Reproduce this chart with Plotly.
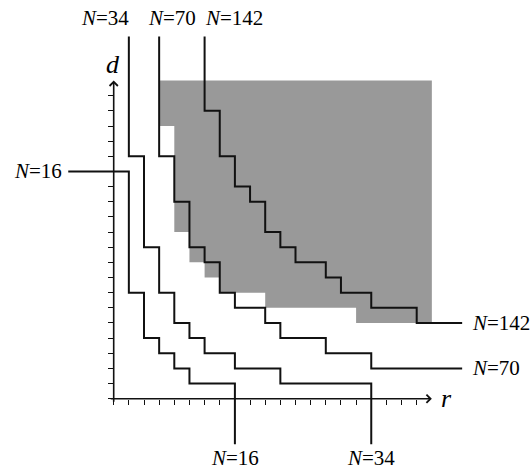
import plotly.graph_objects as go

# ---- data (grid units) ----
N16_x = [-3, 1, 1, 2, 2, 3, 3, 4, 4, 5, 5, 8, 8]
N16_y = [15, 15, 7, 7, 4, 4, 3, 3, 2, 2, 1, 1, -3]

N34_x = [1, 1, 2, 2, 3, 3, 4, 4, 5, 5, 6, 6, 8, 8, 11, 11, 17, 17]
N34_y = [23.9, 16, 16, 10, 10, 7, 7, 5, 5, 4, 4, 3, 3, 2, 2, 1, 1, -3]

N70_x = [3, 3, 4, 4, 5, 5, 6, 6, 7, 7, 8, 8, 10, 10, 11, 11, 14, 14, 17, 17, 23]
N70_y = [23.9, 16, 16, 13, 13, 10, 10, 9, 9, 7, 7, 6, 6, 5, 5, 4, 4, 3, 3, 2, 2]

N142_x = [6, 6, 7, 7, 8, 8, 9, 9, 10, 10, 11, 11, 12, 12, 14, 14, 15, 15, 17, 17, 20, 20, 23]
N142_y = [23.9, 19, 19, 16, 16, 14, 14, 13, 13, 11, 11, 10, 10, 9, 9, 8, 8, 7, 7, 6, 6, 5, 5]

REGION_x = [3, 21, 21, 16, 16, 10, 10, 7, 7, 6, 6, 5, 5, 4, 4, 3, 3]
REGION_y = [21, 21, 5, 5, 6, 6, 7, 7, 8, 8, 9, 9, 11, 11, 18, 18, 21]

tick_vals = list(range(0, 21))
AXIS_MAX = 21

# labels: (text, x, y, xanchor)
labels = [
    ("N", "=16", -3.25, 15.0, "right"),
    ("N", "=34", -0.57, 25.1, "center"),
    ("N", "=70", 3.88, 25.1, "center"),
    ("N", "=142", 7.94, 25.1, "center"),
    ("N", "=16", 8.0, -3.9, "center"),
    ("N", "=34", 17.0, -3.9, "center"),
    ("N", "=142", 23.55, 5.0, "left"),
    ("N", "=70", 23.55, 2.0, "left"),
]

# ---- geometry of the page ----
W, H = 532, 469
OX, OY = 113.7, 398.7     # origin in pixels
U = 15.15                 # pixels per grid unit

xr = [-OX / U, (W - OX) / U]
yr = [-(H - OY) / U, OY / U]

SERIF = "Liberation Serif, Times New Roman, DejaVu Serif, serif"

fig = go.Figure()
fig.add_trace(go.Scatter(x=REGION_x, y=REGION_y, fill="toself", fillcolor="#999999",
                         line=dict(width=0), mode="lines", hoverinfo="skip"))
for xs, ys in [(N16_x, N16_y), (N34_x, N34_y), (N70_x, N70_y), (N142_x, N142_y)]:
    fig.add_trace(go.Scatter(x=xs, y=ys, mode="lines",
                             line=dict(color="#111111", width=2), hoverinfo="skip"))

# empty trace for the tick axes
fig.add_trace(go.Scatter(x=[], y=[], xaxis="x2", yaxis="y2"))

font = dict(family=SERIF, size=21, color="#000000")
ann = []
for n, rest, x, y, xa in labels:
    ann.append(dict(x=x, y=y, xref="x", yref="y", text=f"<i>{n}</i>{rest}",
                    showarrow=False, xanchor=xa, yanchor="middle", font=font))
# axis arrows
ann.append(dict(x=AXIS_MAX, y=0, ax=-0.3, ay=0, xref="x", yref="y", axref="x", ayref="y",
                text="", showarrow=True, arrowhead=4, arrowsize=1, arrowwidth=1.6,
                arrowcolor="#111111", standoff=0, startstandoff=0))
ann.append(dict(x=0, y=AXIS_MAX, ax=0, ay=-0.3, xref="x", yref="y", axref="x", ayref="y",
                text="", showarrow=True, arrowhead=4, arrowsize=1, arrowwidth=1.6,
                arrowcolor="#111111", standoff=0, startstandoff=0))
ann.append(dict(x=(446 - OX) / U, y=(OY - 398) / U, xref="x", yref="y", text="<i>r</i>",
                showarrow=False, font=dict(family=SERIF, size=26, color="#000")))
ann.append(dict(x=(112.5 - OX) / U, y=(OY - 64) / U, xref="x", yref="y", text="<i>d</i>",
                showarrow=False, font=dict(family=SERIF, size=26, color="#000")))

hidden = dict(visible=False, showgrid=False, zeroline=False)
tick_axis = dict(range=[0, AXIS_MAX], showgrid=False, zeroline=False, showline=False,
                 ticks="outside", ticklen=5, tickwidth=1.3, tickcolor="#111111",
                 tickvals=tick_vals, showticklabels=False, fixedrange=True)

fig.update_layout(
    width=W, height=H,
    margin=dict(l=0, r=0, t=0, b=0),
    paper_bgcolor="white", plot_bgcolor="rgba(0,0,0,0)",
    showlegend=False,
    font=dict(family=SERIF),
    xaxis=dict(range=xr, domain=[0, 1], **hidden),
    yaxis=dict(range=yr, domain=[0, 1], **hidden),
    xaxis2=dict(domain=[OX / W, (OX + AXIS_MAX * U) / W], anchor="y2", **tick_axis),
    yaxis2=dict(domain=[(H - OY) / H, (H - OY + AXIS_MAX * U) / H], anchor="x2", **tick_axis),
    annotations=ann,
)

fig.write_html("out.html", config={"displayModeBar": False},
               post_script="document.body.style.margin='0';document.body.style.overflow='hidden';")
